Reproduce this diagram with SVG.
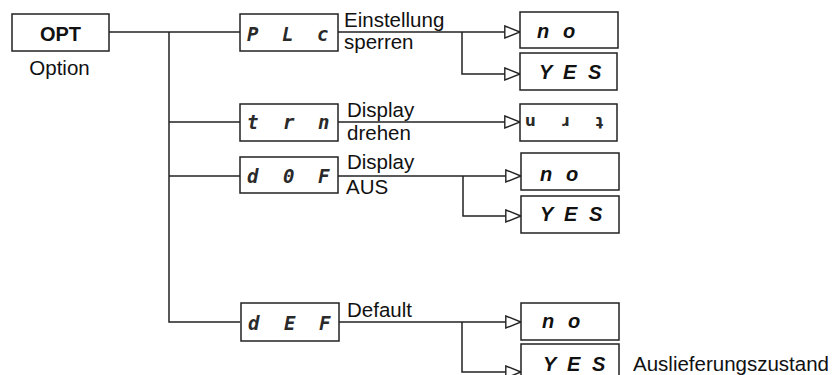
<svg xmlns="http://www.w3.org/2000/svg" width="835" height="375" viewBox="0 0 835 375">
<defs>
<style>
.box{fill:#fff;stroke:#222;stroke-width:1.5}
.ln{fill:none;stroke:#222;stroke-width:1.5}
.lbl{font-family:"Liberation Sans",Arial,sans-serif;font-size:20.5px;fill:#111}
.opt{font-family:"Liberation Sans",Arial,sans-serif;font-size:20px;font-weight:bold;fill:#111}
.val{font-family:"Liberation Sans",Arial,sans-serif;font-size:20px;font-weight:bold;font-style:italic;fill:#111}
.seg{font-family:"DejaVu Sans Mono",monospace;font-size:19px;font-weight:bold;font-style:italic;fill:#2a2a2a}
.seg2{font-family:"DejaVu Sans",sans-serif;font-size:15px;font-weight:bold;fill:#2a2a2a}
</style>
<marker id="arr" markerUnits="userSpaceOnUse" markerWidth="18" markerHeight="14" refX="16" refY="7" orient="auto">
<path d="M0.8,1 L16,7 L0.8,13 Z" fill="#fff" stroke="#222" stroke-width="1.4"/>
</marker>
</defs>
<rect width="835" height="375" fill="#fff"/>
<g id="connectors">
<path class="ln" d="M109,32 H240"/>
<path class="ln" d="M169,32 V322 H240"/>
<path class="ln" d="M169,122 H240"/>
<path class="ln" d="M169,176 H240"/>
<path class="ln" d="M338,32 H520" marker-end="url(#arr)"/>
<path class="ln" d="M462,32 V74 H520" marker-end="url(#arr)"/>
<path class="ln" d="M338,122 H520" marker-end="url(#arr)"/>
<path class="ln" d="M338,176 H521" marker-end="url(#arr)"/>
<path class="ln" d="M463,176 V216 H521" marker-end="url(#arr)"/>
<path class="ln" d="M339,322 H521" marker-end="url(#arr)"/>
<path class="ln" d="M462,322 V372 H521" marker-end="url(#arr)"/>
</g>
<g id="opt">
<rect class="box" x="12" y="14" width="97" height="37"/>
<text class="opt" x="60.5" y="41" text-anchor="middle">OPT</text>
<text class="lbl" x="59.5" y="75" text-anchor="middle">Option</text>
</g>
<g id="plc">
<rect class="box" x="240" y="14" width="98" height="37"/>
<text class="seg" x="247 282 317" y="41">PLc</text>
<text class="lbl" x="344" y="27">Einstellung</text>
<text class="lbl" x="344" y="49">sperren</text>
</g>
<g id="plc-no">
<rect class="box" x="520" y="12" width="98" height="36"/>
<text class="val" x="537 550 563" y="38">n o</text>
</g>
<g id="plc-yes">
<rect class="box" x="520" y="53" width="97" height="37"/>
<text class="val" x="539 554 563 577 588" y="79">Y E S</text>
</g>
<g id="trn">
<rect class="box" x="240" y="104" width="98" height="37"/>
<text class="seg" x="247 283 318" y="129">trn</text>
<text class="lbl" x="347" y="117">Display</text>
<text class="lbl" x="347" y="140">drehen</text>
</g>
<g id="trn-val">
<rect class="box" x="520" y="104" width="97" height="37"/>
<text class="seg2" x="525 561 596" y="126">uɹʇ</text>
</g>
<g id="dof">
<rect class="box" x="240" y="157" width="98" height="36"/>
<text class="seg" x="247 283 318" y="183">d0F</text>
<text class="lbl" x="347" y="169">Display</text>
<text class="lbl" x="346" y="194">AUS</text>
</g>
<g id="dof-no">
<rect class="box" x="521" y="153" width="98" height="37"/>
<text class="val" x="540 553 566" y="181">n o</text>
</g>
<g id="dof-yes">
<rect class="box" x="521" y="196" width="98" height="37"/>
<text class="val" x="540 555 564 578 589" y="221">Y E S</text>
</g>
<g id="def">
<rect class="box" x="241" y="303" width="98" height="38"/>
<text class="seg" x="248 284 319" y="330">dEF</text>
<text class="lbl" x="347" y="317">Default</text>
</g>
<g id="def-no">
<rect class="box" x="521" y="303" width="98" height="37"/>
<text class="val" x="542 555 568" y="328">n o</text>
</g>
<g id="def-yes">
<rect class="box" x="521" y="344" width="98" height="40"/>
<text class="val" x="543 558 567 581 592" y="371">Y E S</text>
<text class="lbl" x="633" y="371">Auslieferungszustand</text>
</g>
</svg>
